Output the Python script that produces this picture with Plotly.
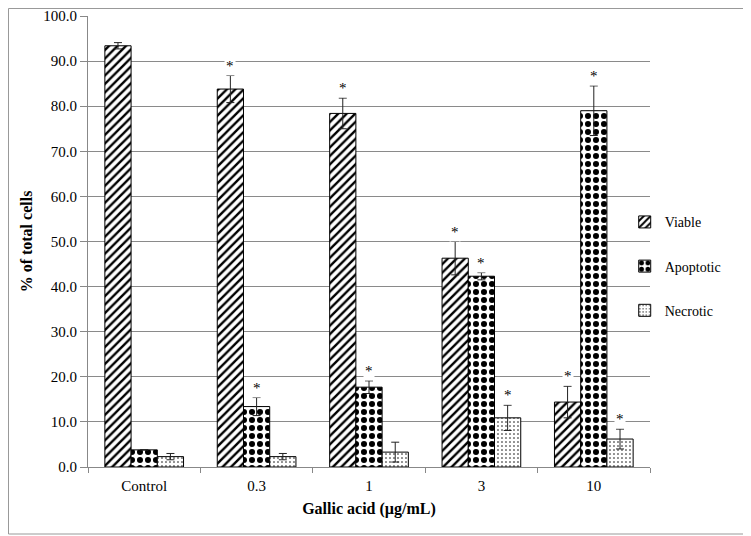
import plotly.graph_objects as go

categories = ["Control", "0.3", "1", "3", "10"]
viable = [93.4, 83.8, 78.4, 46.3, 14.4]
viable_err = [0.7, 3.0, 3.4, 3.7, 3.5]
apoptotic = [3.8, 13.4, 17.7, 42.3, 79.0]
apoptotic_err = [0.0, 2.0, 1.4, 0.8, 5.5]
necrotic = [2.3, 2.3, 3.3, 10.9, 6.2]
necrotic_err = [0.7, 0.7, 2.2, 2.8, 2.2]
viable_sig = [False, True, True, True, True]
apoptotic_sig = [False, True, True, True, True]
necrotic_sig = [False, False, False, True, True]
y_ticks = [0, 10, 20, 30, 40, 50, 60, 70, 80, 90, 100]

FONT = "Liberation Serif, Times New Roman, serif"

series = [
    ("Viable", viable, viable_err, viable_sig, dict(shape="/", size=6, solidity=0.4)),
    ("Apoptotic", apoptotic, apoptotic_err, apoptotic_sig, dict(shape=".", size=8, solidity=0.45)),
    ("Necrotic", necrotic, necrotic_err, necrotic_sig, dict(shape=".", size=4, solidity=0.12)),
]

fig = go.Figure()
for i, (name, vals, errs, sig, pat) in enumerate(series):
    fig.add_trace(go.Bar(
        name=name, x=categories, y=vals,
        legendgroup=name,
        marker=dict(color="white",
                    line=dict(color="black", width=1),
                    pattern=dict(fgcolor="black", bgcolor="white", fillmode="replace", **pat)),
        error_y=dict(type="data", array=errs, visible=True, color="#222", thickness=1, width=4),
    ))

bar_w = 0.7 / 3
offsets = [-bar_w, 0, bar_w]
for i, (name, vals, errs, sig, pat) in enumerate(series):
    for j, s in enumerate(sig):
        if s:
            fig.add_annotation(
                x=j + offsets[i], y=vals[j] + errs[j], xref="x", yref="y",
                text="*", showarrow=False, yanchor="bottom", yshift=0,
                font=dict(family=FONT, size=15, color="black"),
                bgcolor="white", borderpad=1,
            )

# figure is 743x528 (page body adds an 8px offset); plot area 80..642 x 8..459
PW, PH, L, B = 562, 451, 80, 459
fig.add_shape(type="rect", xref="paper", yref="paper",
              x0=(0.5 - L) / PW, x1=(741 - L) / PW,
              y0=(B - 526) / PH, y1=(B - 0.5) / PH,
              line=dict(color="#999", width=1), fillcolor="rgba(0,0,0,0)", layer="below")

fig.update_layout(
    width=743, height=528,
    margin=dict(l=80, r=101, t=8, b=69),
    paper_bgcolor="white", plot_bgcolor="white",
    barmode="group", bargap=0.3, bargroupgap=0,
    font=dict(family=FONT, size=15, color="black"),
    showlegend=True,
    legend=dict(x=0.955, y=0.578, xanchor="left", yanchor="top",
                font=dict(family=FONT, size=14), tracegroupgap=23,
                itemwidth=30, bgcolor="rgba(0,0,0,0)"),
    xaxis=dict(title=dict(text="<b>Gallic acid (µg/mL)</b>", font=dict(family=FONT, size=16), standoff=9),
               automargin=False,
               showline=True, linecolor="#888", linewidth=1,
               ticks="outside", tickson="boundaries", ticklen=5, tickcolor="#888",
               ticklabelstandoff=5,
               tickfont=dict(family=FONT, size=15)),
    yaxis=dict(title=dict(text="<b>% of total cells</b>", font=dict(family=FONT, size=16), standoff=6),
               automargin=False,
               range=[0, 100], tickvals=y_ticks, tickformat=".1f",
               showgrid=True, gridcolor="#8a8a8a", gridwidth=1,
               showline=True, linecolor="#888", linewidth=1,
               ticks="outside", ticklen=7, tickcolor="#888",
               tickfont=dict(family=FONT, size=15), zeroline=False),
)

fig.write_html("out.html")
